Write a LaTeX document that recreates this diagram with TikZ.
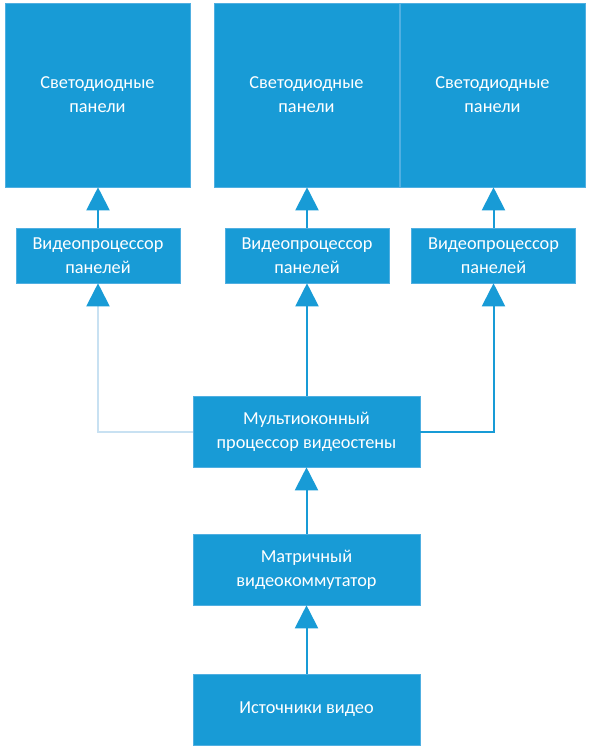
\documentclass[tikz,border=0pt]{standalone}
\usepackage{fontspec}
\setmainfont{Carlito}
\usepackage{tikz}
\usetikzlibrary{arrows.meta,positioning}
\definecolor{boxblue}{RGB}{24,155,214}
\definecolor{edgeblue}{RGB}{80,175,225}
\definecolor{paleline}{RGB}{200,225,242}

\begin{document}
\begin{tikzpicture}[x=1pt,y=-1pt,font=\fontsize{18.3}{24}\selectfont,
    blk/.style={fill=boxblue,draw=edgeblue,line width=0.6pt,text=white,
      align=center,inner sep=0pt},
    panel/.style={blk,minimum width=185pt,minimum height=184pt},
    proc/.style={blk,minimum width=164pt,minimum height=55pt},
    wide/.style={blk,minimum width=227pt,minimum height=71pt},
    link/.style={draw=boxblue,line width=2pt,
      -{Triangle[width=23pt,length=23pt,color=boxblue]}},
    palelink/.style={link,draw=paleline}]
  \useasboundingbox (0,0) rectangle (591,754);
  % panels
  \node[panel] (panL) at (97.5,95) {Светодиодные\\панели};
  \node[panel] (panM) at (306.5,95) {Светодиодные\\панели};
  \node[panel] (panR) at (492.5,95) {Светодиодные\\панели};
  % panel processors
  \node[proc] (vpL) at (98,255.5) {Видеопроцессор\\панелей};
  \node[proc] (vpM) at (307,255.5) {Видеопроцессор\\панелей};
  \node[proc] (vpR) at (493.5,255.5) {Видеопроцессор\\панелей};
  % chain
  \node[wide] (multi) at (306.5,431.5) {Мультиоконный\\процессор видеостены};
  \node[wide] (matrix) at (306.5,569.5) {Матричный\\видеокоммутатор};
  \node[wide] (src) at (306.5,709.5) {Источники видео};
  % connectors
  \draw[link] (vpL.north) -- (vpL.north |- panL.south);
  \draw[link] (vpM.north) -- (vpM.north |- panM.south);
  \draw[link] (vpR.north) -- (vpR.north |- panR.south);
  \draw[link] (multi.north -| vpM.south) -- (vpM.south);
  \draw[palelink] (multi.west) -| (vpL.south);
  \draw[link] (multi.east) -| (vpR.south);
  \draw[link] (matrix.north) -- (multi.south);
  \draw[link] (src.north) -- (matrix.south);
\end{tikzpicture}
\end{document}
